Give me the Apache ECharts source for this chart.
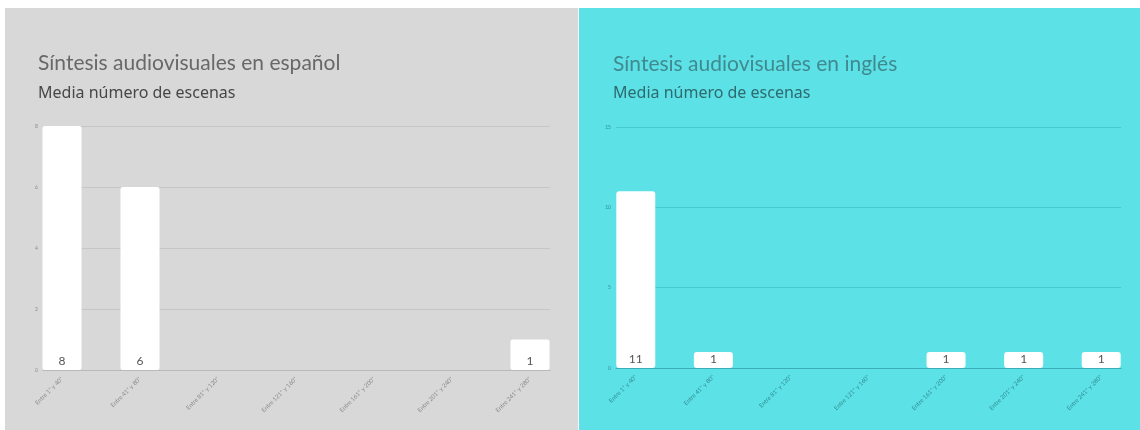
<!DOCTYPE html>
<html>
<head>
<meta charset="utf-8">
<script src="https://cdn.jsdelivr.net/npm/echarts@6/dist/echarts.min.js"></script>
<style>
  html, body { margin: 0; padding: 0; background: #ffffff; }
  #chart { width: 1140px; height: 430px; }
</style>
</head>
<body>
<div id="chart"></div>
<script>
// Duration buckets (seconds) shared by both panels
const categories = [
  'Entre 1" y 40"', 'Entre 41" y 80"', 'Entre 81" y 120"', 'Entre 121" y 160"',
  'Entre 161" y 200"', 'Entre 201" y 240"', 'Entre 241" y 280"'
];
// Mean number of scenes per bucket
const valuesEs = [8, 6, 0, 0, 0, 0, 1];
const valuesEn = [11, 1, 0, 0, 1, 1, 1];
// Value axis ranges
const axisEs = { max: 8, interval: 2 };
const axisEn = { max: 15, interval: 5 };

const titles = {
  es: 'Síntesis audiovisuales en español',
  en: 'Síntesis audiovisuales en inglés',
  sub: 'Media número de escenas'
};

const chart = echarts.init(document.getElementById('chart'));

// Panel geometry: "axes" grid carries the gridlines, "bars" grid places the columns
const panels = [
  {
    values: valuesEs, axis: axisEs,
    axes: { left: 43, width: 507, top: 126, height: 244 },
    bars: { left: 23, width: 546, top: 126, height: 244 },
    grid: '#c6c6c6', base: '#b9b9b9', tick: '#8a8a8a', label: '#555555', radius: 2
  },
  {
    values: valuesEn, axis: axisEn,
    axes: { left: 616, width: 505, top: 127, height: 241 },
    bars: { left: 597, width: 544, top: 127, height: 241 },
    grid: '#47c9cf', base: '#3aaeb4', tick: '#2f8d92', label: '#555555', radius: 3
  }
];

const grid = [], xAxis = [], yAxis = [], series = [];
panels.forEach((p) => {
  const gA = grid.length;
  grid.push(p.axes);
  xAxis.push({
    gridIndex: gA, type: 'value', min: 0, max: 1,
    axisLine: { show: true, onZero: false, lineStyle: { color: p.base, width: 1 } },
    axisTick: { show: false }, axisLabel: { show: false }, splitLine: { show: false }
  });
  yAxis.push({
    gridIndex: gA, type: 'value', min: 0, max: p.axis.max, interval: p.axis.interval,
    axisLine: { show: false }, axisTick: { show: false },
    axisLabel: { fontSize: 5, color: p.tick, margin: 5, fontFamily: 'Lato' },
    splitLine: { lineStyle: { color: p.grid, width: 1 } }
  });
  series.push({ type: 'line', xAxisIndex: xAxis.length - 1, yAxisIndex: yAxis.length - 1, data: [], silent: true });

  const gB = grid.length;
  grid.push(p.bars);
  xAxis.push({
    gridIndex: gB, type: 'category', data: categories,
    axisLine: { show: false }, axisTick: { show: false },
    axisLabel: { rotate: 45, fontSize: 6, color: p.tick, margin: 8, interval: 0, fontFamily: 'Lato' }
  });
  yAxis.push({
    gridIndex: gB, type: 'value', min: 0, max: p.axis.max, interval: p.axis.interval, show: false
  });
  series.push({
    type: 'bar', xAxisIndex: xAxis.length - 1, yAxisIndex: yAxis.length - 1,
    data: p.values, barWidth: 39, z: 5,
    itemStyle: { color: '#ffffff', borderRadius: [p.radius, p.radius, p.radius, p.radius] },
    label: {
      show: true, position: 'insideBottom', distance: 3,
      fontSize: 12, color: p.label, fontFamily: 'Lato',
      formatter: d => (d.value ? String(d.value) : '')
    }
  });
});

chart.setOption({
  animation: false,
  backgroundColor: '#ffffff',
  graphic: [
    { type: 'rect', shape: { x: 5, y: 8, width: 573, height: 422 }, style: { fill: '#d8d8d8' }, z: -10 },
    { type: 'rect', shape: { x: 579, y: 8, width: 561, height: 422 }, style: { fill: '#5ce1e6' }, z: -10 }
  ],
  title: [
    { text: titles.es, left: 38, top: 53, padding: 0, textStyle: { fontFamily: 'Lato', fontSize: 21, fontWeight: 'normal', color: '#686868' } },
    { text: titles.sub, left: 38, top: 85, padding: 0, textStyle: { fontFamily: 'Noto Sans', fontSize: 16, fontWeight: 'normal', color: '#474747' } },
    { text: titles.en, left: 613, top: 54, padding: 0, textStyle: { fontFamily: 'Lato', fontSize: 21, fontWeight: 'normal', color: '#3f8a8f' } },
    { text: titles.sub, left: 613, top: 85, padding: 0, textStyle: { fontFamily: 'Noto Sans', fontSize: 16, fontWeight: 'normal', color: '#2e6a6e' } }
  ],
  grid, xAxis, yAxis, series
});
</script>
</body>
</html>
